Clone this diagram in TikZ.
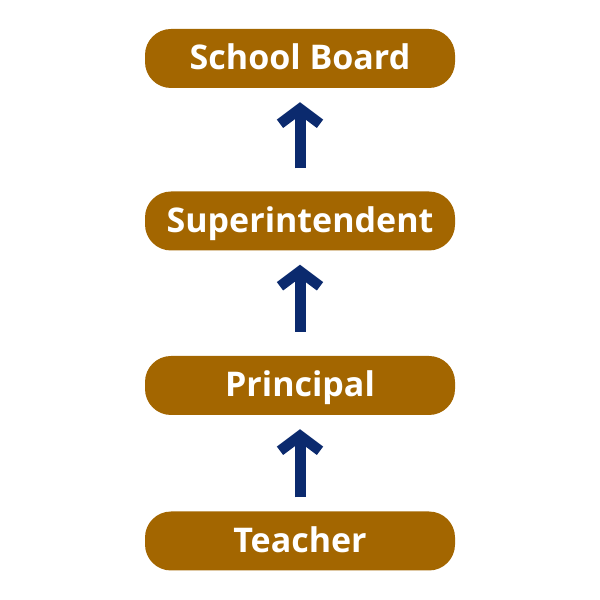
\documentclass[tikz,border=0pt]{standalone}
\usepackage{fontspec}
\setmainfont{Open Sans}
\usepackage{tikz}
\usetikzlibrary{
  positioning,
  arrows.meta
}
\definecolor{boxbrown}{HTML}{A36600}
\definecolor{arrownavy}{HTML}{0B2A6E}

\begin{document}
\begin{tikzpicture}[x=1pt,y=1pt,
	level/.style={fill=boxbrown, text=white, rounded corners=26pt,
		minimum width=310pt, minimum height=59pt, inner sep=0pt,
		text height=23pt, text depth=0pt,
		font=\bfseries\fontsize{34}{34}\selectfont},
	upline/.style={arrownavy, line width=11pt, shorten >=14pt,
		-{Straight Barb[length=15pt, width=40pt, line width=10.5pt]}}]

	\useasboundingbox (0,0) rectangle (600,600);

	\node[level] (board) at (300,541.5) {School Board};
	\node[level] (super) at (300,379) {Superintendent};
	\node[level] (princ) at (300,214.5) {Principal};
	\node[level] (teach) at (300,59) {Teacher};

	\draw[upline, shorten <=23pt] (super.north) -- (board.south);
	\draw[upline, shorten <=24pt] (princ.north) -- (super.south);
	\draw[upline, shorten <=14pt] (teach.north) -- (princ.south);

\end{tikzpicture}
\end{document}
